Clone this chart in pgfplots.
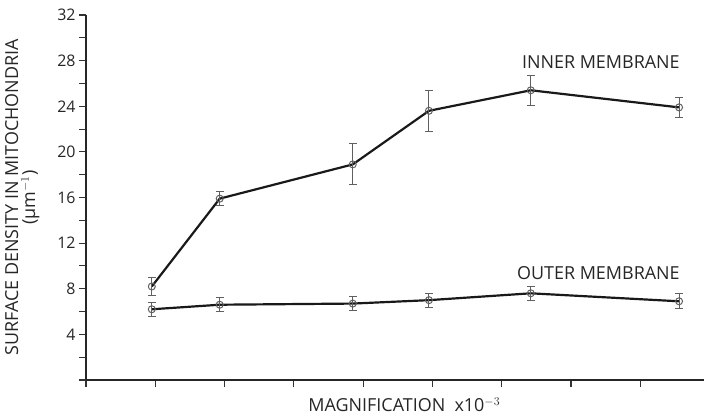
\documentclass[border=0pt]{standalone}
\usepackage{pgfplots}
\pgfplotsset{compat=1.18}
\usepackage{fontspec}
\setmainfont{Open Sans}
\definecolor{txt}{HTML}{262626}
\definecolor{eb}{HTML}{606060}
\begin{document}
\begin{tikzpicture}
\path[use as bounding box] (0,0) rectangle (704bp,419bp);
\begin{axis}[
  at={(86bp,39bp)}, anchor=south west,
  width=618bp, height=365bp, scale only axis,
  xmin=0, xmax=8.92, ymin=0, ymax=32,
  axis lines=left, axis line style={-, line width=2pt, black!85},
  clip=false,
  xtick={0,...,9}, xticklabels={},
  ytick={0,2,...,32},
  yticklabels={,,4,,8,,12,,16,,20,,24,,28,,32},
  tick style={line width=1.1pt, black!80},
  tick align=outside, major tick length=7bp,
  /pgf/number format/assume math mode=true,
  tick label style={font=\fontsize{16}{18}\selectfont, text=txt},
  ylabel={\shortstack{SURFACE DENSITY IN MITOCHONDRIA\\(µm$^{-1}$)}},
  ylabel style={font=\fontsize{18}{17}\selectfont, text=txt, at={(axis description cs:0,0.5)}, anchor=south, yshift=43bp, rotate=0},
  xlabel={MAGNIFICATION\ \ x10$^{-3}$},
  xlabel style={font=\fontsize{18}{20}\selectfont, text=txt, at={(axis description cs:0.515,0)}, anchor=north, yshift=-14bp},
]
\addplot[black!90, line width=2.2pt, mark=o, mark size=3.5bp,
  mark options={draw=eb, fill=white, line width=1pt},
  error bars/.cd, y dir=both, y explicit,
  error bar style={eb, line width=1pt},
  error mark options={rotate=90, mark size=3.8bp, eb, line width=1pt}]
coordinates {
 (0.95,8.2) +- (0,0.8)
 (1.93,15.9) +- (0,0.6)
 (3.85,18.9) +- (0,1.8)
 (4.95,23.6) +- (0,1.8)
 (6.42,25.4) +- (0,1.3)
 (8.56,23.9) +- (0,0.9)
};
\addplot[black!90, line width=2.2pt, mark=o, mark size=3.5bp,
  mark options={draw=eb, fill=white, line width=1pt},
  error bars/.cd, y dir=both, y explicit,
  error bar style={eb, line width=1pt},
  error mark options={rotate=90, mark size=3.8bp, eb, line width=1pt}]
coordinates {
 (0.95,6.2) +- (0,0.6)
 (1.93,6.6) +- (0,0.6)
 (3.85,6.7) +- (0,0.65)
 (4.95,7.0) +- (0,0.6)
 (6.42,7.6) +- (0,0.6)
 (8.56,6.9) +- (0,0.65)
};
\node[anchor=east, font=\fontsize{18}{20}\selectfont, text=txt] at (axis cs:8.62,27.9) {INNER MEMBRANE};
\node[anchor=east, font=\fontsize{18}{20}\selectfont, text=txt] at (axis cs:8.62,9.4) {OUTER MEMBRANE};
\end{axis}
\end{tikzpicture}
\end{document}
